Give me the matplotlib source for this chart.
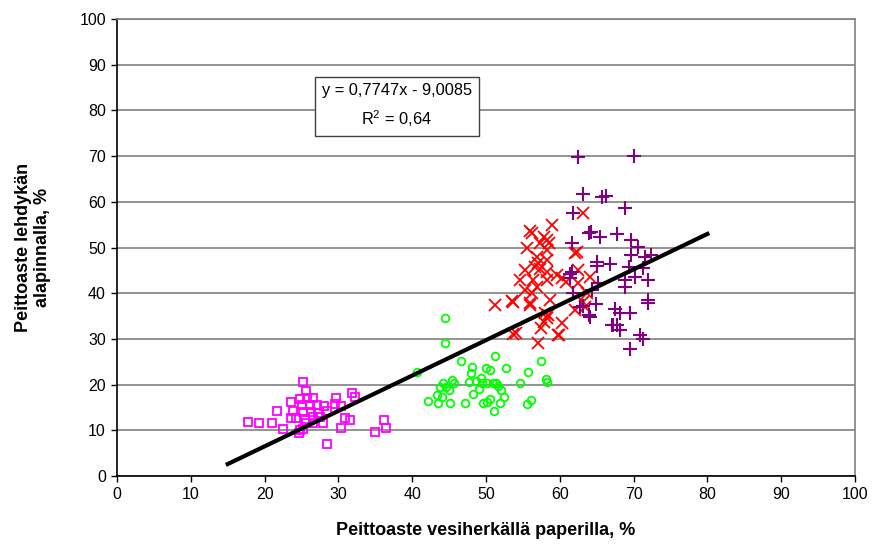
import matplotlib
matplotlib.use("Agg")
import matplotlib.pyplot as plt

plt.rcParams['font.family'] = ['Liberation Sans', 'DejaVu Sans']

# Magenta squares
sq_x = [25.2, 25.6, 23.6, 24.8, 25.7, 26.5, 21.7, 23.9, 25.0, 26.1, 27.1, 28.0, 29.6, 29.7,
        30.4, 31.9, 32.2, 28.5, 25.2, 26.3, 27.3, 23.6, 24.3, 25.5, 26.6, 27.5, 30.9, 31.6,
        17.7, 19.3, 21.0, 26.6, 27.9, 25.6, 22.5, 24.8, 25.2, 24.6, 30.3, 34.9, 36.2, 36.4, 28.5]
sq_y = [20.6, 18.7, 16.2, 16.8, 17.0, 17.0, 14.2, 14.3, 15.5, 15.5, 15.5, 15.3, 15.8, 17.0,
        15.3, 18.2, 17.2, 14.3, 13.9, 14.1, 13.7, 12.6, 12.8, 12.5, 13.0, 13.0, 12.8, 12.3,
        11.8, 11.5, 11.5, 11.5, 11.5, 11.5, 10.2, 10.1, 10.2, 9.3, 10.4, 9.6, 12.2, 10.4, 7.1]

# Green circles
ci_x = [44.4, 44.5, 40.6, 46.6, 51.2, 57.5, 48.1, 48.0, 50.0, 50.6, 52.7, 55.7, 45.4, 45.7,
        44.2, 47.7, 48.7, 49.3, 49.4, 50.1, 51.0, 51.3, 51.6, 54.6, 58.1, 58.3, 43.8, 44.6,
        45.0, 49.0, 52.1, 43.3, 44.1, 48.3, 52.5, 50.5, 42.1, 43.5, 45.1, 47.2, 49.6, 50.2,
        51.9, 55.5, 56.1, 51.1]
ci_y = [34.6, 29.2, 22.8, 25.2, 26.2, 25.2, 23.9, 22.6, 23.7, 23.3, 23.6, 22.8, 21.0, 20.4,
        20.3, 20.5, 20.7, 21.4, 20.3, 20.3, 20.4, 20.3, 19.7, 20.4, 21.2, 20.6, 19.4, 19.4,
        18.8, 19.0, 18.8, 17.7, 17.2, 17.9, 17.2, 16.9, 16.5, 15.9, 15.9, 16.0, 16.0, 16.3,
        16.0, 15.7, 16.6, 14.2]

# Red crosses
x_x = [63.2, 58.9, 56.0, 56.2, 57.8, 58.2, 58.5, 57.3, 55.5, 58.2, 62.3, 56.9, 58.2, 57.1,
       56.6, 57.3, 55.3, 58.2, 59.6, 60.3, 60.9, 64.1, 54.6, 56.4, 58.2, 62.5, 56.9, 55.3,
       56.2, 63.7, 53.5, 58.7, 56.0, 63.2, 63.4, 62.1, 58.0, 58.4, 58.2, 57.8, 60.3, 57.5,
       53.7, 59.8, 57.1, 51.2, 53.6, 56.0, 54.0, 59.9, 62.1, 62.5]
x_y = [57.6, 55.0, 53.7, 53.1, 52.4, 51.6, 50.9, 50.9, 49.8, 49.5, 49.1, 48.0, 47.3, 46.5,
       45.8, 45.4, 45.1, 44.7, 44.0, 43.3, 42.5, 43.6, 42.9, 42.9, 42.9, 42.2, 41.4, 40.7,
       40.0, 40.0, 38.3, 38.5, 37.8, 38.1, 37.0, 36.3, 35.6, 35.2, 34.5, 33.8, 33.4, 32.3,
       31.1, 30.9, 29.0, 37.4, 38.1, 37.4, 31.2, 30.9, 48.7, 45.1]

# Purple plus signs
p_x = [62.4, 70.1, 63.1, 65.7, 66.3, 61.8, 68.8, 64.2, 65.4, 67.7, 69.7, 70.6, 69.6, 71.5,
       72.4, 61.6, 65.1, 66.8, 69.4, 71.3, 61.6, 61.4, 65.2, 68.8, 70.2, 71.9, 68.8, 64.4,
       61.8, 72.0, 72.0, 63.1, 64.9, 64.1, 67.5, 68.1, 69.5, 67.1, 67.7, 68.2, 70.9, 71.3,
       69.5, 64.0, 65.0, 61.4, 62.7, 63.9, 67.2]
p_y = [69.7, 70.1, 61.6, 61.1, 61.3, 57.6, 58.6, 53.4, 52.4, 53.0, 51.6, 50.2, 48.4, 48.0,
       48.4, 50.9, 46.0, 46.4, 45.8, 45.6, 44.7, 43.3, 42.2, 42.9, 43.5, 42.9, 41.4, 40.7,
       40.0, 38.5, 37.9, 37.2, 37.6, 34.9, 36.5, 35.6, 35.6, 33.0, 33.0, 31.9, 30.9, 29.9,
       27.7, 53.1, 46.9, 44.3, 37.0, 35.2, 33.0]

# Trend line
slope = 0.7747
intercept = -9.0085
line_x = [15, 80]
line_y = [slope * v + intercept for v in line_x]

x_ticks = list(range(0, 101, 10))
y_ticks = list(range(0, 101, 10))

fig = plt.figure(figsize=(8.72, 5.45), dpi=100)
ax = fig.add_axes([117/872, 69/545, 738/872, 457/545])

ax.set_xlim(0, 100)
ax.set_ylim(0, 100)
ax.set_xticks(x_ticks)
ax.set_yticks(y_ticks)
ax.yaxis.grid(True, color='#808080', linewidth=1.2)
ax.set_axisbelow(True)

for s in ['top', 'right']:
    ax.spines[s].set_color('#808080')
    ax.spines[s].set_linewidth(1.2)
for s in ['left', 'bottom']:
    ax.spines[s].set_color('black')
    ax.spines[s].set_linewidth(1.2)

ax.tick_params(direction='out', length=4, width=1, labelsize=11.5, pad=4)

ax.plot(sq_x, sq_y, linestyle='none', marker='s', markersize=5.5, markerfacecolor='none',
        markeredgecolor='#FF00FF', markeredgewidth=1.3, zorder=3)
ax.plot(ci_x, ci_y, linestyle='none', marker='o', markersize=5.5, markerfacecolor='none',
        markeredgecolor='#00FF00', markeredgewidth=1.3, zorder=3)
ax.plot(x_x, x_y, linestyle='none', marker='x', markersize=8.5, markeredgecolor='#FF0000',
        markeredgewidth=1.3, zorder=3)
ax.plot(p_x, p_y, linestyle='none', marker='+', markersize=9.5, markeredgecolor='#800080',
        markeredgewidth=1.5, zorder=3)

ax.plot(line_x, line_y, color='black', linewidth=3, zorder=4)

ax.text(37.9, 81.0, 'y = 0,7747x - 9,0085\n$\\mathregular{R^2}$ = 0,64', ha='center', va='center',
        fontsize=11.8, linespacing=1.6, zorder=5,
        bbox=dict(boxstyle='square,pad=0.42', facecolor='white', edgecolor='#404040', linewidth=1))

ax.set_xlabel('Peittoaste vesiherkällä paperilla, %', fontsize=13, fontweight='bold', labelpad=14)
ax.set_ylabel('Peittoaste lehdykän\nalapinnalla, %', fontsize=13, fontweight='bold', labelpad=20)

fig.savefig('out.png', dpi=100)
